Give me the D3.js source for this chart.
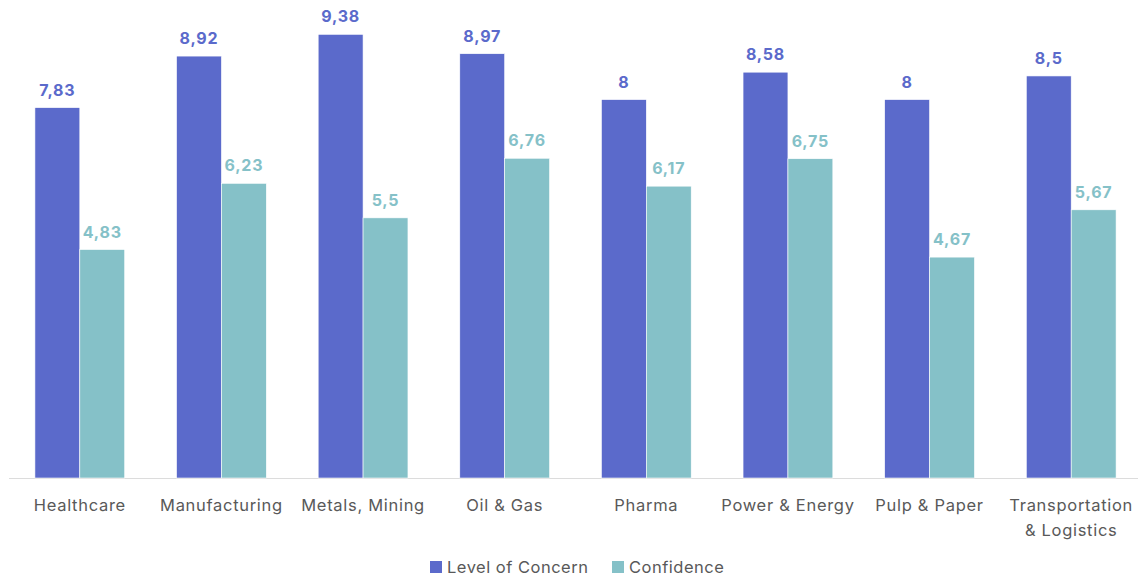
<!DOCTYPE html>
<html><head><meta charset="utf-8">
<script src="https://cdn.jsdelivr.net/npm/d3@7"></script>
<style>body{margin:0;background:#fff;} svg{display:block;font-family:Inter, "Open Sans", sans-serif;}</style>
</head><body><svg id="c" width="1138" height="579"></svg>
<script>
const categories = ["Healthcare","Manufacturing","Metals, Mining","Oil & Gas","Pharma","Power & Energy","Pulp & Paper","Transportation & Logistics"];
const concern = [7.83, 8.92, 9.38, 8.97, 8, 8.58, 8, 8.5];
const confidence = [4.83, 6.23, 5.5, 6.76, 6.17, 6.75, 4.67, 5.67];
const seriesNames = ["Level of Concern","Confidence"];
const colors = ["#5B6ACB","#85C1C8"];

const svg = d3.select("#c");
const x = d3.scaleBand().domain(categories).range([9, 1142]).paddingInner(0.366).paddingOuter(0.183);
const y = d3.scaleLinear().domain([0, 10]).range([478, 5]);
const x1 = d3.scaleBand().domain(seriesNames).range([0, x.bandwidth()]);

const fmt = v => String(v).replace(".", ",");
const data = categories.map((c,i)=>({c, vals:[concern[i], confidence[i]]}));

svg.append("line").attr("x1",9).attr("x2",1138).attr("y1",y(0)+0.5).attr("y2",y(0)+0.5)
  .attr("stroke","#dcdcdc").attr("stroke-width",1);

const g = svg.selectAll("g.cat").data(data).join("g").attr("transform", d=>`translate(${x(d.c)},0)`);
g.selectAll("rect").data(d=>d.vals.map((v,j)=>({v,j}))).join("rect")
  .attr("x", d=>x1(seriesNames[d.j])).attr("width", x1.bandwidth())
  .attr("y", d=>y(d.v)).attr("height", d=>y(0)-y(d.v))
  .attr("fill", d=>colors[d.j]).attr("stroke","#fff").attr("stroke-width",0.6);
g.selectAll("text.val").data(d=>d.vals.map((v,j)=>({v,j}))).join("text").attr("class","val")
  .attr("x", d=>x1(seriesNames[d.j]) + x1.bandwidth()/2).attr("y", d=>y(d.v)-12)
  .attr("text-anchor","middle").attr("font-size",16).attr("font-weight",700).attr("letter-spacing",0.8)
  .attr("fill", d=>colors[d.j]).text(d=>fmt(d.v));

// category labels
const labelLines = {"Transportation & Logistics":["Transportation","& Logistics"]};
categories.forEach(c=>{
  const lines = labelLines[c] || [c];
  const t = svg.append("text").attr("text-anchor","middle").attr("font-size",16.5).attr("letter-spacing",0.7).attr("fill","#595959")
    .attr("x", x(c)+x.bandwidth()/2).attr("y", 511);
  lines.forEach((l,i)=>t.append("tspan").attr("x", x(c)+x.bandwidth()/2).attr("dy", i?24.5:0).text(l));
});

// legend
const leg = [{n:seriesNames[0], x:430},{n:seriesNames[1], x:612}];
leg.forEach((l,i)=>{
  svg.append("rect").attr("x",l.x).attr("y",561).attr("width",12).attr("height",12).attr("fill",colors[i]);
  svg.append("text").attr("x",l.x+17).attr("y",573).attr("font-size",16.5).attr("letter-spacing",0.5).attr("fill","#595959").text(l.n);
});
</script></body></html>
